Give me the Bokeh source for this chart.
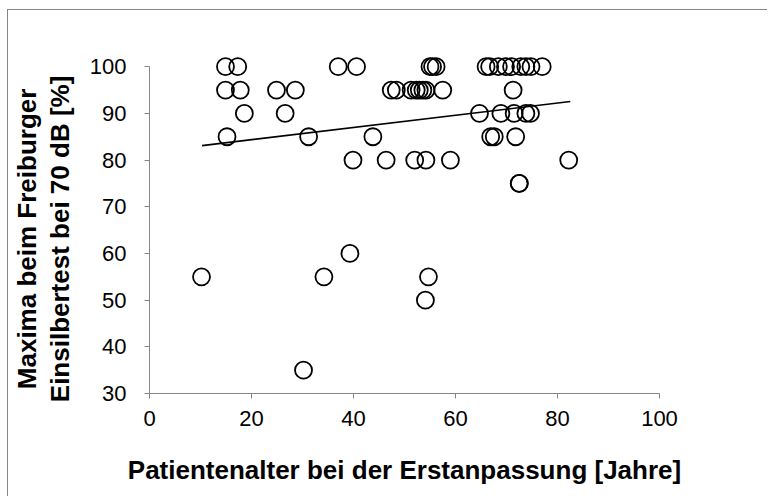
from bokeh.plotting import figure
from bokeh.models import Range1d, FixedTicker, ColumnDataSource
from bokeh.embed import file_html
from bokeh.resources import INLINE

# Patient age at first fitting [years]
age = [10.2, 30.2, 34.2, 39.3, 54.7, 54.1, 72.5,
       14.9, 17.3, 37.0, 40.6, 55.0, 55.5, 56.2, 66.0, 66.7, 68.4, 69.8, 71.0, 72.8, 73.8, 74.8, 77.0,
       14.9, 17.8, 24.9, 28.6, 47.4, 48.4, 51.3, 52.3, 52.9, 53.6, 54.2, 57.5, 71.3,
       18.6, 26.6, 64.7, 68.9, 71.5, 73.8, 74.7,
       15.2, 31.2, 43.8, 66.9, 67.6, 71.8,
       39.9, 46.4, 52.0, 54.2, 59.0, 82.2,
       72.5]
# Maximum Freiburg monosyllable score at 70 dB [%]
score = [55, 35, 55, 60, 55, 50, 75,
         100, 100, 100, 100, 100, 100, 100, 100, 100, 100, 100, 100, 100, 100, 100, 100,
         95, 95, 95, 95, 95, 95, 95, 95, 95, 95, 95, 95, 95,
         90, 90, 90, 90, 90, 90, 90,
         85, 85, 85, 85, 85, 85,
         80, 80, 80, 80, 80, 80,
         75]
# linear trend line end points
trend_x = [10.3, 82.5]
trend_y = [83.1, 92.55]

x_ticks = [0, 20, 40, 60, 80, 100]
y_ticks = [30, 40, 50, 60, 70, 80, 90, 100]

x_title = "Patientenalter bei der Erstanpassung [Jahre]"
y_title_lines = ["Maxima beim Freiburger", "Einsilbertest bei 70 dB [%]"]

AX = "#868686"
FONT = "Liberation Sans"

p = figure(width=760, height=487, output_backend="svg", toolbar_location=None,
           x_range=Range1d(0, 100), y_range=Range1d(30, 102.4),
           min_border_left=139, min_border_right=109, min_border_top=45, min_border_bottom=104)
p.styles = {"margin-left": "7px", "margin-top": "9px",
            "border-left": "1px solid #868686", "border-top": "1px solid #868686"}
p.outline_line_color = None
p.grid.visible = False
p.background_fill_color = "white"
p.border_fill_color = "white"

src = ColumnDataSource(dict(x=age, y=score))
p.scatter("x", "y", source=src, marker="circle", size=17, fill_color=None,
          line_color="black", line_width=1.8)
p.line(trend_x, trend_y, line_color="black", line_width=1.6)

for ax in (p.xaxis[0], p.yaxis[0]):
    ax.axis_line_color = AX
    ax.major_tick_line_color = AX
    ax.minor_tick_line_color = None
    ax.major_tick_in = 0
    ax.major_tick_out = 5
    ax.major_label_text_font = FONT
    ax.major_label_text_font_size = "22px"
    ax.major_label_text_color = "black"
    ax.axis_label_text_font = FONT
    ax.axis_label_text_font_style = "bold"
    ax.axis_label_text_color = "black"

p.xaxis.ticker = FixedTicker(ticks=x_ticks)
p.yaxis.ticker = FixedTicker(ticks=y_ticks)
p.xaxis.bounds = (0, 100)
p.yaxis.bounds = (30, 100)
p.xaxis.major_label_standoff = 12
p.yaxis.major_label_standoff = 18

p.xaxis.axis_label = x_title
p.xaxis.axis_label_text_font_size = "26px"
p.xaxis.axis_label_standoff = 26

# trailing no-break spaces push the centred title a little lower, as in the original
pad = "\u00a0" * 4
p.yaxis.axis_label = "\n".join(t + pad for t in y_title_lines)
p.yaxis.axis_label_text_font_size = "26px"
p.yaxis.axis_label_text_line_height = 1.1
p.yaxis.axis_label_standoff = 12

open("out.html", "w").write(file_html(p, INLINE))
